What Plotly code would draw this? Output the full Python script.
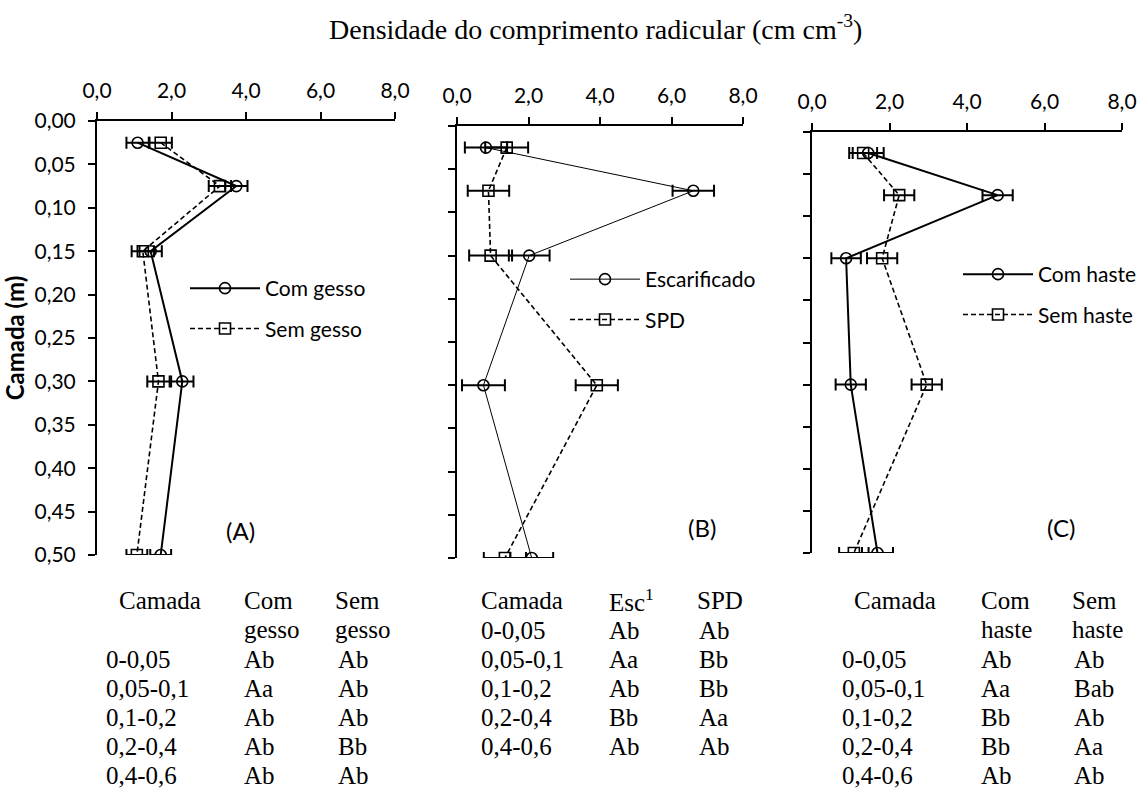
import plotly.graph_objects as go

# Profundidade (m) do centro de cada camada amostrada
depth = [0.025, 0.075, 0.15, 0.30, 0.50]

# (A) gesso
a_com = [1.09, 3.74, 1.44, 2.29, 1.71]
a_com_err = [0.30, 0.30, 0.30, 0.30, 0.28]
a_sem = [1.71, 3.30, 1.23, 1.65, 1.07]
a_sem_err = [0.30, 0.30, 0.30, 0.30, 0.28]

# (B) escarificação
b_esc = [0.81, 6.61, 2.02, 0.74, 2.09]
b_esc_err = [0.59, 0.58, 0.57, 0.60, 0.60]
b_spd = [1.39, 0.88, 0.94, 3.91, 1.34]
b_spd_err = [0.60, 0.58, 0.60, 0.59, 0.59]

# (C) haste sulcadora
c_com = [1.45, 4.79, 0.88, 1.00, 1.69]
c_com_err = [0.40, 0.39, 0.38, 0.39, 0.40]
c_sem = [1.32, 2.25, 1.81, 2.96, 1.08]
c_sem_err = [0.36, 0.39, 0.39, 0.39, 0.38]

x_ticks = [0, 2, 4, 6, 8]
y_ticks = [0.0, 0.05, 0.10, 0.15, 0.20, 0.25, 0.30, 0.35, 0.40, 0.45, 0.50]

# Tabelas de comparação de médias
layers = ["0-0,05", "0,05-0,1", "0,1-0,2", "0,2-0,4", "0,4-0,6"]
tab_a_com = ["Ab", "Aa", "Ab", "Ab", "Ab"]
tab_a_sem = ["Ab", "Ab", "Ab", "Bb", "Ab"]
tab_b_esc = ["Ab", "Aa", "Ab", "Bb", "Ab"]
tab_b_spd = ["Ab", "Bb", "Bb", "Aa", "Ab"]
tab_c_com = ["Ab", "Aa", "Bb", "Bb", "Ab"]
tab_c_sem = ["Ab", "Bab", "Ab", "Aa", "Ab"]

W, H = 1142, 793


def px(x):
    return x / W


def py(y):
    return 1 - y / H


SANS = "Lato"
SERIF = "Liberation Serif"
TICK_FONT = dict(family=SANS, size=21, color="black")

fig = go.Figure()


def add_series(x, err, name, xa, ya, symbol, dash, width, legend):
    fig.add_trace(go.Scatter(
        x=x, y=depth, name=name, mode="lines+markers",
        xaxis=xa, yaxis=ya, legend=legend, legendgroup=name,
        line=dict(color="black", width=width, dash=dash),
        marker=dict(symbol=symbol, size=11, color="black", line=dict(width=1.6)),
        error_x=dict(type="data", array=err, visible=True, color="black",
                     thickness=2, width=6),
    ))


DASH = "5px,3px"
add_series(a_com, a_com_err, "Com gesso", "x", "y", "circle-open", "solid", 2, "legend")
add_series(a_sem, a_sem_err, "Sem gesso", "x", "y", "square-open", DASH, 1.6, "legend")
add_series(b_esc, b_esc_err, "Escarificado", "x2", "y2", "circle-open", "solid", 1, "legend2")
add_series(b_spd, b_spd_err, "SPD", "x2", "y2", "square-open", DASH, 1.6, "legend2")
add_series(c_com, c_com_err, "Com haste", "x3", "y3", "circle-open", "solid", 2, "legend3")
add_series(c_sem, c_sem_err, "Sem haste", "x3", "y3", "square-open", DASH, 1.6, "legend3")

# Posições dos painéis (pixels): x0, x1, y_top, y_bottom
panels = [(97, 395, 121, 555), (457, 743, 126, 558), (812, 1122, 132, 553)]

axis_common = dict(showline=True, linecolor="black", linewidth=2, ticks="outside",
                   ticklen=7, tickwidth=2, tickcolor="black", showgrid=False,
                   zeroline=False, tickfont=TICK_FONT, automargin=False)

layout = {}
for i, (x0, x1, yt, yb) in enumerate(panels):
    sfx = "" if i == 0 else str(i + 1)
    layout["xaxis" + sfx] = dict(
        axis_common, domain=[px(x0), px(x1)], range=[0, 8], side="top",
        tickvals=x_ticks, tickformat=".1f", anchor="y" + sfx,
        ticklabelstandoff=6,
    )
    layout["yaxis" + sfx] = dict(
        axis_common, domain=[py(yb), py(yt)], range=[0.5, 0],
        tickvals=y_ticks, tickformat=".2f", anchor="x" + sfx,
        showticklabels=(i == 0), ticklabelstandoff=8,
    )
layout["yaxis"]["title"] = dict(text="<b>Camada (m)</b>",
                                font=dict(family=SANS, size=24, color="black"),
                                standoff=4)

legend_common = dict(font=TICK_FONT, bgcolor="rgba(0,0,0,0)", borderwidth=0,
                     xanchor="left", yanchor="top", xref="paper", yref="paper",
                     itemwidth=70, tracegroupgap=10, traceorder="grouped",
                     itemclick=False)
layout["legend"] = dict(legend_common, x=px(185), y=py(268))
layout["legend2"] = dict(legend_common, x=px(565), y=py(259))
layout["legend3"] = dict(legend_common, x=px(958), y=py(254))

fig.update_layout(
    width=W, height=H, autosize=False,
    margin=dict(l=0, r=0, t=0, b=0, autoexpand=False),
    paper_bgcolor="white", plot_bgcolor="white",
    separators=",.", showlegend=True,
    **layout,
)

ann = []
# Título geral do eixo x
ann.append(dict(text="Densidade do comprimento radicular (cm cm<sup>-3</sup>)",
                x=px(595), y=py(28), xanchor="center", yanchor="middle",
                font=dict(family=SERIF, size=28, color="black")))

# Rótulos dos painéis
for lab, cx, cy in [("(A)", 240, 530), ("(B)", 702, 527), ("(C)", 1061, 527)]:
    ann.append(dict(text=lab, x=px(cx), y=py(cy), xanchor="center", yanchor="middle",
                    font=dict(family=SANS, size=24, color="black")))


def txt(s, x, y):
    ann.append(dict(text=s, x=px(x), y=py(y), xanchor="left", yanchor="middle",
                    font=dict(family=SERIF, size=25, color="black")))


row_y = [659, 688, 717, 746, 775]
row_y_b = [630, 659, 688, 717, 746]

# Tabela (A)
txt("Camada", 117, 600)
txt("Com", 242, 600)
txt("gesso", 242, 629)
txt("Sem", 333, 600)
txt("gesso", 333, 629)
for lay, c1, c2, yy in zip(layers, tab_a_com, tab_a_sem, row_y):
    txt(lay, 104, yy)
    txt(c1, 242, yy)
    txt(c2, 336, yy)

# Tabela (B)
txt("Camada", 479, 600)
txt("Esc<sup>1</sup>", 607, 600)
txt("SPD", 695, 600)
for lay, c1, c2, yy in zip(layers, tab_b_esc, tab_b_spd, row_y_b):
    txt(lay, 479, yy)
    txt(c1, 607, yy)
    txt(c2, 697, yy)

# Tabela (C)
txt("Camada", 852, 600)
txt("Com", 979, 600)
txt("haste", 979, 629)
txt("Sem", 1070, 600)
txt("haste", 1070, 629)
for lay, c1, c2, yy in zip(layers, tab_c_com, tab_c_sem, row_y):
    txt(lay, 840, yy)
    txt(c1, 979, yy)
    txt(c2, 1072, yy)

fig.update_layout(annotations=[dict(a, xref="paper", yref="paper", showarrow=False) for a in ann])

fig.write_html("out.html")
